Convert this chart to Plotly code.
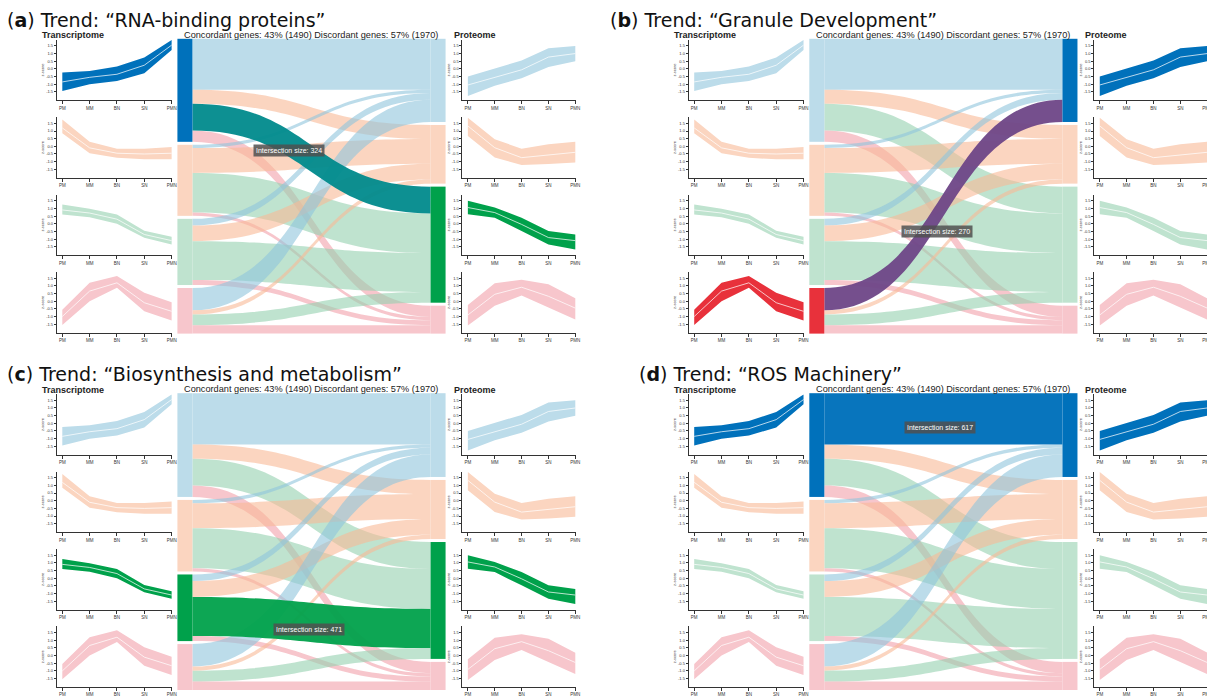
import plotly.graph_objects as go

# reference canvas size and page offset (browser body margin)
REF_W, REF_H = 1215, 697
OFF = 8
W, H = REF_W - OFF, REF_H - OFF

# ---------------- data ----------------
stages = ["PM", "MM", "BN", "SN", "PMN"]
y_ticks = [1.5, 1.0, 0.5, 0.0, -0.5, -1.0, -1.5]
y_tick_labels = ["1.5", "1.0", "0.5", "0.0", "-0.5", "-1.0", "-1.5"]
trend_order = ["increasing", "early decrease", "decreasing", "peak"]

# Transcriptome trend profiles (mean, lower, upper z-score)
t_inc_mean = [-0.85, -0.55, -0.35, 0.24, 1.55]
t_inc_lo = [-1.44, -1.00, -0.79, -0.28, 1.24]
t_inc_hi = [-0.24, -0.13, 0.15, 0.74, 1.88]

t_early_mean = [1.20, -0.10, -0.45, -0.50, -0.45]
t_early_lo = [0.85, -0.45, -0.75, -0.85, -0.85]
t_early_hi = [1.75, 0.30, -0.15, -0.15, -0.05]

t_dec_mean = [0.90, 0.70, 0.30, -0.70, -1.10]
t_dec_lo = [0.60, 0.42, 0.00, -0.92, -1.35]
t_dec_hi = [1.25, 0.98, 0.60, -0.45, -0.85]

t_peak_mean = [-1.00, 0.66, 1.20, -0.10, -0.66]
t_peak_lo = [-1.55, 0.00, 0.88, -0.66, -1.26]
t_peak_hi = [-0.55, 1.20, 1.65, 0.55, -0.07]

# Proteome trend profiles (mean, lower, upper z-score)
p_inc_mean = [-1.05, -0.57, -0.06, 0.77, 1.00]
p_inc_lo = [-1.77, -1.10, -0.61, 0.12, 0.50]
p_inc_hi = [-0.50, 0.00, 0.55, 1.35, 1.50]

p_early_mean = [1.33, -0.09, -0.74, -0.56, -0.39]
p_early_lo = [0.68, -0.73, -1.22, -1.16, -1.05]
p_early_hi = [1.87, 0.46, -0.15, 0.13, 0.30]

p_dec_mean = [1.06, 0.73, -0.04, -0.90, -1.10]
p_dec_lo = [0.62, 0.40, -0.47, -1.35, -1.68]
p_dec_hi = [1.50, 1.06, 0.40, -0.47, -0.70]

p_peak_mean = [-0.90, 0.45, 0.91, 0.32, -0.45]
p_peak_lo = [-1.59, -0.29, 0.37, -0.42, -1.20]
p_peak_hi = [-0.24, 1.17, 1.40, 1.10, 0.19]

# Sankey flows: transcriptome trend (row) -> proteome trend (column)
flow_from_inc = [617, 170, 324, 136]
flow_from_early = [40, 300, 480, 40]
flow_from_dec = [80, 190, 471, 60]
flow_from_peak = [270, 50, 130, 102]

panel_letters = ["a", "b", "c", "d"]
panel_names = ["RNA-binding proteins", "Granule Development",
               "Biosynthesis and metabolism", "ROS Machinery"]
panel_src = [0, 3, 2, 0]   # highlighted transcriptome trend
panel_tgt = [2, 0, 2, 0]   # highlighted proteome trend

# ---------------- styling ----------------
dark = ["#0071bb", "#f4a582", "#00a14b", "#e8313b"]
light = ["#bcdcea", "#fbd5c0", "#bfe3cf", "#f7c6cc"]
light_rgba = ["rgba(143,197,220,0.6)", "rgba(248,185,150,0.6)",
              "rgba(148,208,175,0.6)", "rgba(242,160,170,0.6)"]
mix_link = {(0, 2): "rgba(0,138,140,0.95)", (3, 0): "rgba(110,70,135,0.95)",
            (2, 2): "rgba(0,161,75,0.95)", (0, 0): "rgba(0,113,187,0.97)"}

T_profiles = [(t_inc_mean, t_inc_lo, t_inc_hi), (t_early_mean, t_early_lo, t_early_hi),
              (t_dec_mean, t_dec_lo, t_dec_hi), (t_peak_mean, t_peak_lo, t_peak_hi)]
P_profiles = [(p_inc_mean, p_inc_lo, p_inc_hi), (p_early_mean, p_early_lo, p_early_hi),
              (p_dec_mean, p_dec_lo, p_dec_hi), (p_peak_mean, p_peak_lo, p_peak_hi)]
flows = [flow_from_inc, flow_from_early, flow_from_dec, flow_from_peak]

offsets = [(0, 0), (634, 0), (0, 357), (634, 357)]
title_x = [6, 611, 6, 640]
tooltip_pos = [(290, 152), (940, 233), (310, 634), (943, 431)]

FONT = "Liberation Sans, Arial, sans-serif"


def fx(x):
    return (x - OFF) / W


def fy(y):
    return 1 - (y - OFF) / H


fig = go.Figure()
layout = dict(width=W, height=H, margin=dict(l=0, r=0, t=0, b=0),
              paper_bgcolor="white", plot_bgcolor="rgba(0,0,0,0)",
              showlegend=False, font=dict(family=FONT, color="#222"))
annotations = []
ax_n = 0
xs = list(range(len(stages)))

for p in range(4):
    ox, oy = offsets[p]
    src, tgt = panel_src[p], panel_tgt[p]

    # ---- small trend charts ----
    for side in range(2):
        profiles = T_profiles if side == 0 else P_profiles
        x0 = ox + (57 if side == 0 else 464)
        x1 = x0 + 116 if side == 0 else x0 + 114
        hl = src if side == 0 else tgt
        for r in range(4):
            ax_n += 1
            sfx = "" if ax_n == 1 else str(ax_n)
            ybot = oy + 101 + 78 * r
            ytop = ybot - 61
            mean, lo, hi = profiles[r]
            col = dark[r] if r == hl else light[r]
            xa, ya = "x" + sfx, "y" + sfx
            fig.add_trace(go.Scatter(x=xs, y=hi, mode="lines", line=dict(width=0, color=col),
                                     xaxis=xa, yaxis=ya, hoverinfo="skip"))
            fig.add_trace(go.Scatter(x=xs, y=lo, mode="lines", line=dict(width=0, color=col),
                                     fill="tonexty", fillcolor=col,
                                     xaxis=xa, yaxis=ya, hoverinfo="skip"))
            fig.add_trace(go.Scatter(x=xs, y=mean, mode="lines",
                                     line=dict(width=0.8, color="rgba(255,255,255,0.9)"),
                                     xaxis=xa, yaxis=ya, hoverinfo="skip"))
            layout["xaxis" + sfx] = dict(
                domain=[fx(x0), fx(x1)], anchor=ya, range=[-0.2, 4.03],
                showgrid=False, zeroline=False, showline=True, linecolor="#333", linewidth=1,
                ticks="outside", ticklen=3, tickwidth=1, tickcolor="#333",
                tickvals=xs, ticktext=stages, tickfont=dict(size=4.5, color="#333"))
            layout["yaxis" + sfx] = dict(
                domain=[fy(ybot), fy(ytop)], anchor=xa, range=[-2.05, 1.9],
                showgrid=False, zeroline=False, showline=True, linecolor="#333", linewidth=1,
                ticks="outside", ticklen=2, tickwidth=1, tickcolor="#333",
                tickvals=y_ticks, ticktext=y_tick_labels, tickfont=dict(size=4, color="#333"),
                title=dict(text="z-score", font=dict(size=4, color="#333"), standoff=1))

    # ---- sankey ----
    sx0, sx1 = ox + 178, ox + 447
    sy0, sy1 = oy + 39, oy + (336 if p < 2 else 338)
    Ws, Hs = sx1 - sx0, sy1 - sy0
    thick, pad = 15, 3
    total = sum(sum(f) for f in flows)
    ky = (Hs - 3 * pad) / total
    left_tot = [sum(flows[i]) for i in range(4)]
    right_tot = [sum(flows[i][j] for i in range(4)) for j in range(4)]

    def centers(tots):
        out, acc = [], 0.0
        for v in tots:
            h = v * ky
            out.append((acc + h / 2) / Hs)
            acc += h + pad
        return out

    node_y = centers(left_tot) + centers(right_tot)
    node_x = [thick / 2 / Ws] * 4 + [1 - thick / 2 / Ws] * 4
    node_col = [dark[i] if i == src else light[i] for i in range(4)] + \
               [dark[j] if j == tgt else light[j] for j in range(4)]

    srcs, tgts, vals, lcols = [], [], [], []
    order = [(i, j) for i in range(4) for j in range(4) if (i, j) != (src, tgt)] + [(src, tgt)]
    for i, j in order:
        srcs.append(i)
        tgts.append(4 + j)
        vals.append(flows[i][j])
        lcols.append(mix_link[(i, j)] if (i, j) == (src, tgt) else light_rgba[j])

    fig.add_trace(go.Sankey(
        domain=dict(x=[fx(sx0), fx(sx1)], y=[fy(sy1), fy(sy0)]),
        arrangement="fixed", hoverinfo="none",
        node=dict(label=[""] * 8, x=node_x, y=node_y, pad=pad, thickness=thick,
                  color=node_col, line=dict(width=0)),
        link=dict(source=srcs, target=tgts, value=vals, color=lcols,
                  line=dict(width=0), hoverinfo="none")))

    # ---- texts ----
    annotations.append(dict(
        x=fx(title_x[p]), y=fy(oy + OFF), xref="paper", yref="paper",
        xanchor="left", yanchor="top", showarrow=False, borderpad=0,
        text=f"(<b>{panel_letters[p]}</b>) Trend: \u201c{panel_names[p]}\u201d",
        font=dict(family="DejaVu Sans, sans-serif", size=19, color="#111")))
    annotations.append(dict(
        x=fx(ox + 41), y=fy(oy + 35.5), xref="paper", yref="paper",
        xanchor="left", yanchor="middle", showarrow=False, borderpad=0,
        text="<b>Transcriptome</b>", font=dict(size=9, color="#222")))
    annotations.append(dict(
        x=fx(ox + 454), y=fy(oy + 35.5), xref="paper", yref="paper",
        xanchor="left", yanchor="middle", showarrow=False, borderpad=0,
        text="<b>Proteome</b>", font=dict(size=9, color="#222")))
    conc = sum(flows[i][i] for i in range(4))
    disc = total - conc
    annotations.append(dict(
        x=fx((sx0 + sx1) / 2), y=fy(oy + 35), xref="paper", yref="paper",
        xanchor="center", yanchor="middle", showarrow=False, borderpad=0,
        text=f"Concordant genes: {round(100 * conc / total)}% ({conc}) "
             f"Discordant genes: {round(100 * disc / total)}% ({disc})",
        font=dict(size=9.2, color="#222")))
    tx, ty = tooltip_pos[p]
    annotations.append(dict(
        x=fx(tx), y=fy(ty), xref="paper", yref="paper",
        xanchor="center", yanchor="middle", showarrow=False,
        text=f"Intersection size: {flows[src][tgt]}",
        bgcolor="rgba(80,80,80,0.85)", borderpad=2,
        font=dict(size=7, color="white")))

layout["annotations"] = annotations
fig.update_layout(**layout)
fig.write_html("out.html")
